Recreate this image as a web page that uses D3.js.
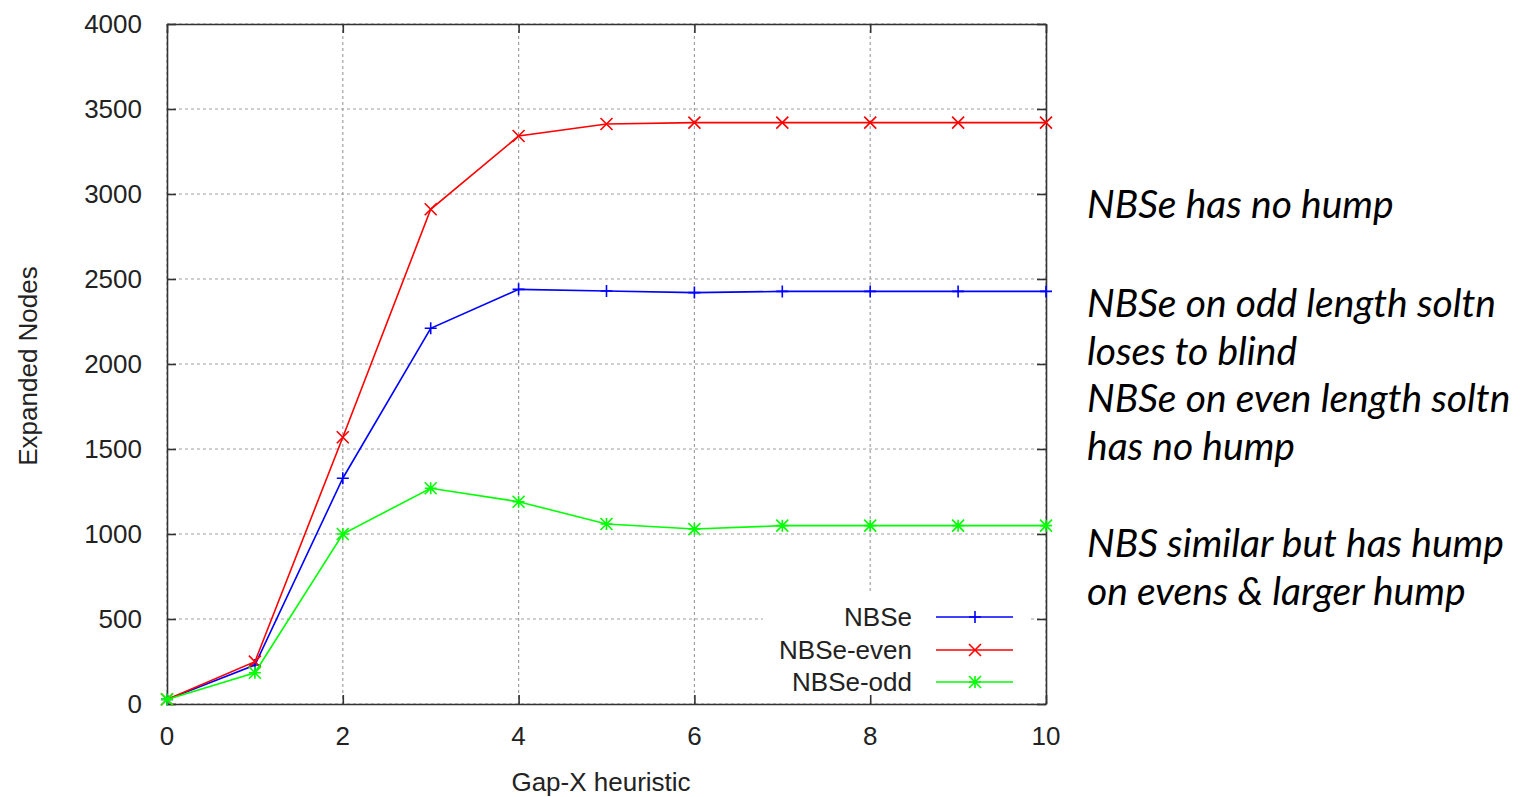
<!DOCTYPE html>
<html>
<head>
<meta charset="utf-8">
<script src="https://cdn.jsdelivr.net/npm/d3@7"></script>
<style>
	body { margin: 0; background: #fff; }
	svg { display: block; }
	.tick-label, .axis-title, .legend-label { font-family: "Liberation Sans", Arial, sans-serif; font-size: 26px; fill: #222; }
	.note { font-family: Lato, "Open Sans", sans-serif; font-style: italic; font-size: 39px; fill: #000; }
</style>
</head>
<body>
<script>
/* Data. */
const gapX = [0, 1, 2, 3, 4, 5, 6, 7, 8, 9, 10];
const nbse = [27, 229, 1328, 2210, 2439, 2429, 2420, 2427, 2427, 2427, 2427];
const nbseEven = [27, 249, 1569, 2910, 3341, 3412, 3420, 3420, 3420, 3420, 3420];
const nbseOdd = [27, 184, 1000, 1269, 1190, 1059, 1029, 1049, 1049, 1049, 1049];
const seriesNames = ['NBSe', 'NBSe-even', 'NBSe-odd'];
const seriesColors = ['#0000ff', '#ff0000', '#00ff00'];
const xTicks = [0, 2, 4, 6, 8, 10];
const yTicks = [0, 500, 1000, 1500, 2000, 2500, 3000, 3500, 4000];
const notes = [
	['NBSe has no hump', 218],
	['NBSe on odd length soltn', 317],
	['loses to blind', 365],
	['NBSe on even length soltn', 412],
	['has no hump', 460],
	['NBS similar but has hump', 557],
	['on evens & larger hump', 605]
];

/* Markers in gnuplot style. */
function markerPath(type, s) {
	let plus = 'M' + (-s) + ',0L' + s + ',0M0,' + (-s) + 'L0,' + s;
	let cross = 'M' + (-s) + ',' + (-s) + 'L' + s + ',' + s + 'M' + (-s) + ',' + s + 'L' + s + ',' + (-s);
	if (type === 0) return plus;
	if (type === 1) return cross;
	return plus + cross;
}

function createChart() {
	const margin = { top: 24, left: 167 };
	const width = 879;
	const height = 680;

	let svg = d3.select('body').append('svg')
		.attr('width', 1537)
		.attr('height', 797);

	let plot = svg.append('g')
		.attr('transform', 'translate(' + margin.left + ',' + margin.top + ')');

	let xScale = d3.scaleLinear().domain([0, 10]).range([0, width]);
	let yScale = d3.scaleLinear().domain([0, 4000]).range([height, 0]);

	/* Grid. */
	plot.selectAll('.vgrid')
			.data(xTicks)
		.enter().append('line')
			.attr('x1', function(d) { return xScale(d); })
			.attr('x2', function(d) { return xScale(d); })
			.attr('y1', 0).attr('y2', height)
			.attr('stroke', '#a0a0a0').attr('stroke-width', 1.2)
			.attr('stroke-dasharray', '3,3');
	plot.selectAll('.hgrid')
			.data(yTicks)
		.enter().append('line')
			.attr('y1', function(d) { return yScale(d); })
			.attr('y2', function(d) { return yScale(d); })
			.attr('x1', 0).attr('x2', width)
			.attr('stroke', '#a0a0a0').attr('stroke-width', 1.2)
			.attr('stroke-dasharray', '3,3');

	/* Legend background hides the grid. */
	plot.append('rect')
		.attr('x', 763 - margin.left)
		.attr('y', 593 - margin.top)
		.attr('width', 1028 - 763)
		.attr('height', height - (593 - margin.top) - 1)
		.attr('fill', '#fff');

	/* Border and ticks, mirrored on all sides. */
	let axes = [
		d3.axisBottom(xScale).tickValues(xTicks).tickSizeInner(-9).tickSizeOuter(0).tickFormat(''),
		d3.axisTop(xScale).tickValues(xTicks).tickSizeInner(-9).tickSizeOuter(0).tickFormat(''),
		d3.axisLeft(yScale).tickValues(yTicks).tickSizeInner(-9).tickSizeOuter(0).tickFormat(''),
		d3.axisRight(yScale).tickValues(yTicks).tickSizeInner(-9).tickSizeOuter(0).tickFormat('')
	];
	let offsets = ['translate(0,' + height + ')', 'translate(0,0)', 'translate(0,0)', 'translate(' + width + ',0)'];
	axes.forEach(function(axis, i) {
		let g = plot.append('g').attr('transform', offsets[i]).call(axis);
		g.selectAll('path, line').attr('stroke', '#333').attr('stroke-width', 1.6);
	});

	/* Tick labels. */
	plot.selectAll('.xlabel')
			.data(xTicks)
		.enter().append('text')
			.attr('class', 'tick-label')
			.attr('x', function(d) { return xScale(d); })
			.attr('y', height + 41)
			.attr('text-anchor', 'middle')
			.text(function(d) { return d; });
	plot.selectAll('.ylabel')
			.data(yTicks)
		.enter().append('text')
			.attr('class', 'tick-label')
			.attr('x', -25)
			.attr('y', function(d) { return yScale(d) + 9; })
			.attr('text-anchor', 'end')
			.text(function(d) { return d; });

	/* Axis titles. */
	svg.append('text')
		.attr('class', 'axis-title')
		.attr('x', 601).attr('y', 791)
		.attr('text-anchor', 'middle')
		.text('Gap-X heuristic');
	svg.append('text')
		.attr('class', 'axis-title')
		.attr('transform', 'translate(37,366) rotate(-90)')
		.attr('text-anchor', 'middle')
		.text('Expanded Nodes');

	/* Series. */
	let allSeries = [nbse, nbseEven, nbseOdd];
	let line = d3.line()
		.x(function(d, i) { return xScale(gapX[i]); })
		.y(function(d) { return yScale(d); });

	allSeries.forEach(function(values, k) {
		plot.append('path')
			.datum(values)
			.attr('d', line)
			.attr('fill', 'none')
			.attr('stroke', seriesColors[k])
			.attr('stroke-width', 1.6);
		plot.selectAll('.marker' + k)
				.data(values)
			.enter().append('path')
				.attr('transform', function(d, i) {
					return 'translate(' + xScale(gapX[i]) + ',' + yScale(d) + ')';
				})
				.attr('d', markerPath(k, 6))
				.attr('fill', 'none')
				.attr('stroke', seriesColors[k])
				.attr('stroke-width', 1.6);
	});

	/* Legend. */
	let rowY = [617, 650, 682];
	seriesNames.forEach(function(name, k) {
		let y = rowY[k] - margin.top;
		plot.append('text')
			.attr('class', 'legend-label')
			.attr('x', 912 - margin.left)
			.attr('y', y + 9)
			.attr('text-anchor', 'end')
			.text(name);
		plot.append('line')
			.attr('x1', 936 - margin.left).attr('x2', 1013 - margin.left)
			.attr('y1', y).attr('y2', y)
			.attr('stroke', seriesColors[k]).attr('stroke-width', 1.6);
		plot.append('path')
			.attr('transform', 'translate(' + (975 - margin.left) + ',' + y + ')')
			.attr('d', markerPath(k, 6))
			.attr('fill', 'none')
			.attr('stroke', seriesColors[k])
			.attr('stroke-width', 1.6);
	});

	/* Notes on the right. */
	svg.selectAll('.note')
			.data(notes)
		.enter().append('text')
			.attr('class', 'note')
			.attr('x', 1087)
			.attr('y', function(d) { return d[1]; })
			.text(function(d) { return d[0]; });
}

window.onload = function() {
	createChart();
};
</script>
</body>
</html>
